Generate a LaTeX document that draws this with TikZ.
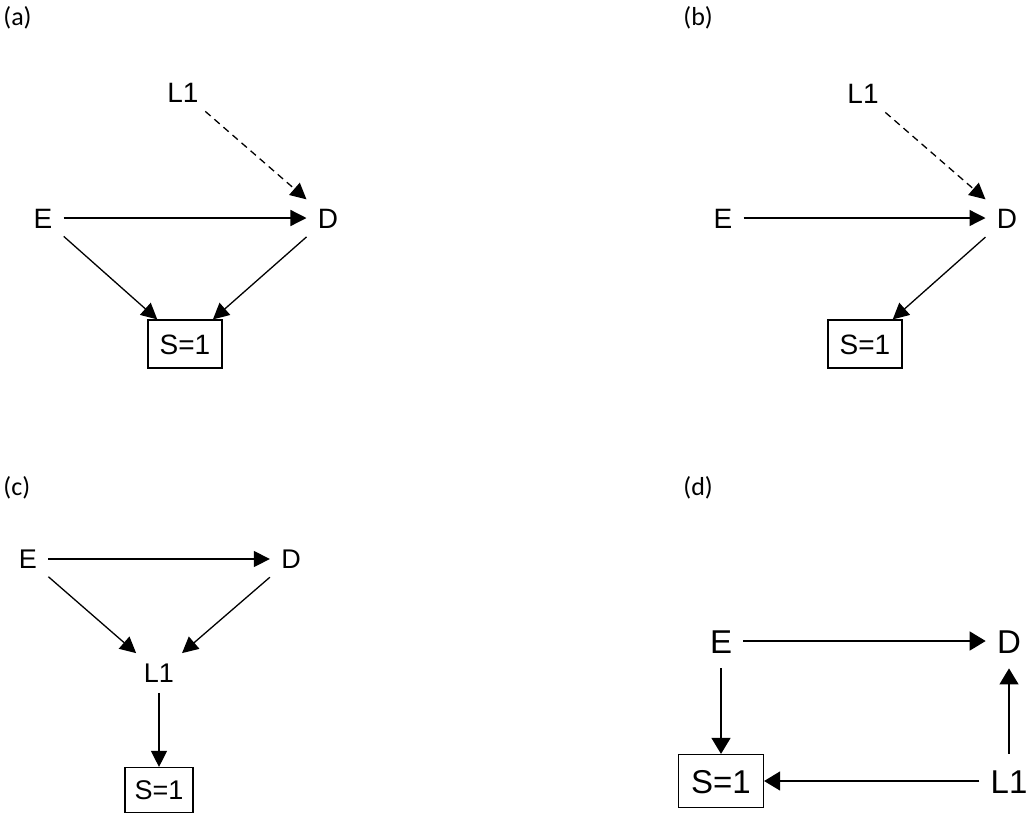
\documentclass[tikz,border=0pt]{standalone}
\usepackage{fontspec}
\setmainfont{Liberation Sans}
\newfontfamily\lblfont{Carlito}
\usetikzlibrary{arrows.meta}
\tikzset{
  x=0.5pt, y=-0.5pt,
  var/.style={inner xsep=5.5pt, inner ysep=4.5pt, text height=10pt, text depth=0pt, font=\fontsize{14}{14}\selectfont},
  varc/.style={inner xsep=5.5pt, inner ysep=5pt, text height=9.5pt, text depth=0pt, font=\fontsize{13.5}{13.5}\selectfont},
  vard/.style={inner xsep=5.5pt, inner ysep=7.5pt, text height=12pt, text depth=0pt, font=\fontsize{16.5}{16.5}\selectfont},
  selbox/.style={draw, line width=0.6pt, inner sep=0pt, minimum width=37pt, minimum height=24pt, text height=10pt, text depth=0pt, font=\fontsize{14}{14}\selectfont},
  selboxc/.style={selbox, minimum width=34pt, minimum height=22.5pt, text height=9.5pt, font=\fontsize{13.5}{13.5}\selectfont},
  selboxd/.style={selbox, minimum width=42.5pt, minimum height=26.5pt, text height=12pt, font=\fontsize{16.5}{16.5}\selectfont},
  arr/.style={line width=0.65pt, -{Triangle[length=8pt,width=8pt]}},
  arrd/.style={line width=0.65pt, -{Triangle[length=8pt,width=9.5pt]}},
  dasharr/.style={arr, dash pattern=on 3.5pt off 2.5pt},
  panel/.style={anchor=west, inner sep=0pt, font=\lblfont\fontsize{13}{13}\selectfont}
}
\begin{document}
\begin{tikzpicture}
\useasboundingbox (0,0) rectangle (1028,815);
% labels
\node[panel] (la) at (3,18) {(a)};
\node[panel] (lb) at (683,18) {(b)};
\node[panel] (lc) at (3,488) {(c)};
\node[panel] (ld) at (683,488) {(d)};
% (a)
\node[var] (La) at (183,92) {L1};
\node[var] (Ea) at (43,218) {E};
\node[var] (Da) at (328,218) {D};
\node[selbox] (Sa) at (185,344) {S=1};
\draw[arr] (Ea) -- (Da);
\draw[dasharr] (La) -- (Da);
\draw[arr] (Ea) -- (Sa);
\draw[arr] (Da) -- (Sa);
% (b)
\node[var] (Lb) at (863,93) {L1};
\node[var] (Eb) at (723,218) {E};
\node[var] (Db) at (1007,218) {D};
\node[selbox] (Sb) at (865,344) {S=1};
\draw[arr] (Eb) -- (Db);
\draw[dasharr] (Lb) -- (Db);
\draw[arr] (Db) -- (Sb);
% (c)
\node[varc] (Ec) at (28,559) {E};
\node[varc] (Dc) at (291,559) {D};
\node[varc] (Lc) at (159,673) {L1};
\node[selboxc] (Sc) at (159,790) {S=1};
\draw[arr] (Ec) -- (Dc);
\draw[arr] (Ec) -- (Lc);
\draw[arr] (Dc) -- (Lc);
\draw[arr] (Lc) -- (Sc);
% (d)
\node[vard] (Ed) at (721,641) {E};
\node[vard] (Dd) at (1009,641) {D};
\node[vard] (Ld) at (1009,781) {L1};
\node[selboxd] (Sd) at (721,781) {S=1};
\draw[arrd] (Ed) -- (Dd);
\draw[arrd] (Ed) -- (Sd);
\draw[arrd] (Ld) -- (Dd);
\draw[arrd] (Ld) -- (Sd);
\end{tikzpicture}
\end{document}
